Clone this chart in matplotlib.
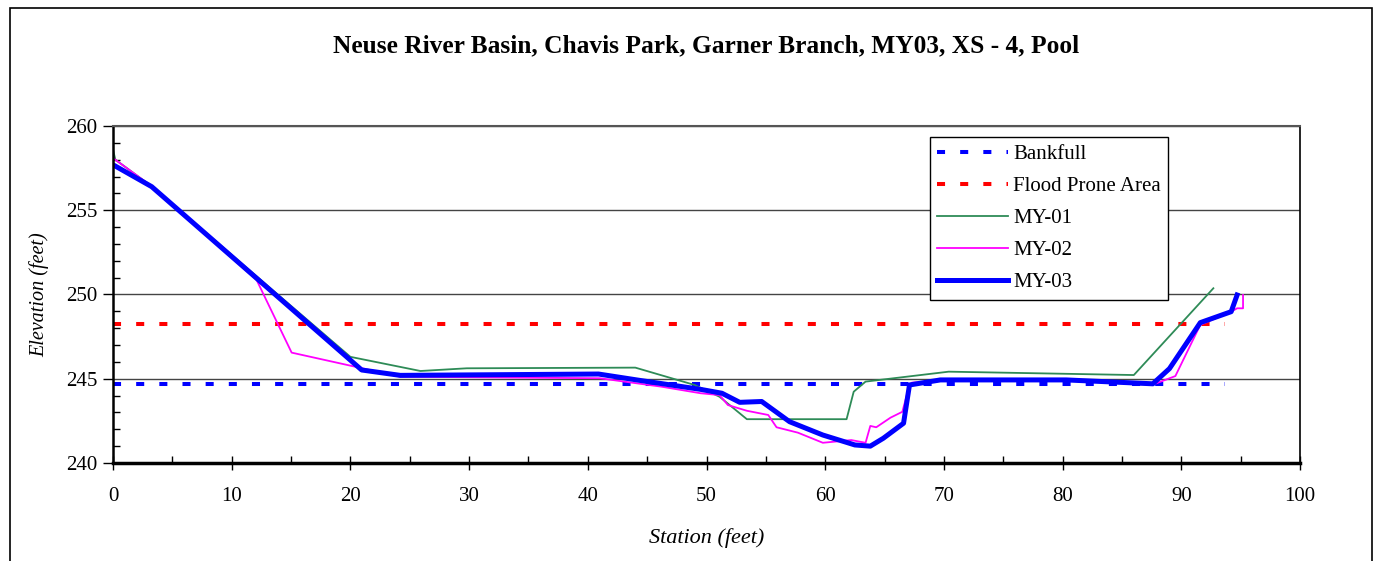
import matplotlib.pyplot as plt
from matplotlib.patches import Rectangle
from matplotlib.ticker import MultipleLocator

plt.rcParams['font.family'] = ['Liberation Serif', 'DejaVu Serif']

# survey data: station (ft) / elevation (ft)
bankfull_x = [0, 93.7]
bankfull_y = [244.7, 244.7]
flood_x = [0, 93.7]
flood_y = [248.25, 248.25]

my01_x = [0.0, 0.2, 3.3, 20.0, 25.9, 29.8, 44.0, 49.0, 51.1, 53.4, 61.8, 62.4, 63.4,
          69.7, 70.4, 86.0, 92.7]
my01_y = [258.6, 258.0, 256.4, 246.3, 245.46, 245.62, 245.66, 244.63, 243.93, 242.6,
          242.6, 244.23, 244.83, 245.36, 245.42, 245.22, 250.37]

my02_x = [0.0, 3.3, 12.1, 15.05, 24.2, 41.0, 46.2, 49.5, 51.1, 51.8, 53.4, 55.2, 55.9,
          57.7, 59.8, 62.2, 63.4, 63.8, 64.3, 65.5, 66.5, 67.1, 67.3, 70.0, 80.0,
          87.9, 89.5, 91.6, 94.2, 94.7, 95.2, 95.2]
my02_y = [258.1, 256.4, 250.86, 246.55, 245.12, 245.03, 244.53, 244.14, 244.03, 243.44,
          243.1, 242.85, 242.12, 241.8, 241.2, 241.36, 241.2, 242.2, 242.12, 242.69,
          243.04, 244.63, 244.77, 244.9, 244.95, 244.73, 245.16, 248.2, 248.98, 249.18,
          249.18, 249.97]

my03_x = [0.0, 3.26, 20.95, 24.2, 40.9, 44.4, 49.5, 51.3, 52.8, 54.65, 57.0, 59.8,
          62.5, 63.8, 64.9, 66.6, 67.1, 69.7, 80.3, 87.6, 89.0, 91.6, 94.2, 94.7]
my03_y = [257.7, 256.4, 245.52, 245.2, 245.28, 244.9, 244.37, 244.14, 243.6, 243.65,
          242.45, 241.66, 241.07, 241.0, 241.47, 242.36, 244.63, 244.93, 244.93, 244.7,
          245.6, 248.33, 248.98, 249.97]

fig = plt.figure(figsize=(13.83, 5.61), dpi=100)
ax = fig.add_axes([0.0817, 0.1747, 0.8583, 0.6007])

# outer chart frame
fig.patches.append(Rectangle((10 / 1383, -0.05), 1362 / 1383, 1.05 - 8 / 561,
                             transform=fig.transFigure, fill=False,
                             edgecolor='black', linewidth=1.2))

ax.plot(bankfull_x, bankfull_y, color='#0000FF', linewidth=2.9,
        linestyle=(0, (2, 3.75)), dash_capstyle='butt', label='Bankfull')
ax.plot(flood_x, flood_y, color='#FF0000', linewidth=2.9,
        linestyle=(0, (2, 3.75)), dash_capstyle='butt', label='Flood Prone Area')
ax.plot(my01_x, my01_y, color='#2E8B57', linewidth=1.3, label='MY-01')
ax.plot(my02_x, my02_y, color='#FF00FF', linewidth=1.3, label='MY-02')
ax.plot(my03_x, my03_y, color='#0000FF', linewidth=3.6, label='MY-03')

ax.set_xlim(0, 100)
ax.set_ylim(240, 260)
ax.xaxis.set_major_locator(MultipleLocator(10))
ax.xaxis.set_minor_locator(MultipleLocator(5))
ax.yaxis.set_major_locator(MultipleLocator(5))
ax.yaxis.set_minor_locator(MultipleLocator(1))
ax.tick_params(axis='x', which='major', direction='inout', length=10, width=1,
               labelsize=15, pad=12)
ax.tick_params(axis='x', which='minor', direction='in', length=5, width=1)
ax.tick_params(axis='y', which='major', direction='out', length=7, width=1,
               labelsize=15, pad=4)
ax.tick_params(axis='y', which='minor', direction='in', length=5, width=1)
ax.grid(True, which='major', axis='y', color='#444444', linewidth=1)

ax.spines['bottom'].set_linewidth(2.5)
ax.spines['left'].set_linewidth(1.8)
ax.spines['top'].set_color('#555555')
ax.spines['top'].set_linewidth(1.5)
ax.spines['right'].set_linewidth(1.2)

ax.set_title('Neuse River Basin, Chavis Park, Garner Branch, MY03, XS - 4, Pool',
             fontsize=18.3, fontweight='bold', pad=53)
ax.set_xlabel('Station (feet)', fontsize=16, style='italic', labelpad=16)
ax.set_ylabel('Elevation (feet)', fontsize=14.5, style='italic', labelpad=12)

leg = ax.legend(loc='upper left', bbox_to_anchor=(0.688, 0.967), borderaxespad=0,
                fontsize=15, handlelength=3.4, handletextpad=0.25,
                labelspacing=0.6, fancybox=False, framealpha=1,
                edgecolor='black', borderpad=0.35)
leg.get_frame().set_linewidth(1)

fig.savefig('out.png', dpi=100)
